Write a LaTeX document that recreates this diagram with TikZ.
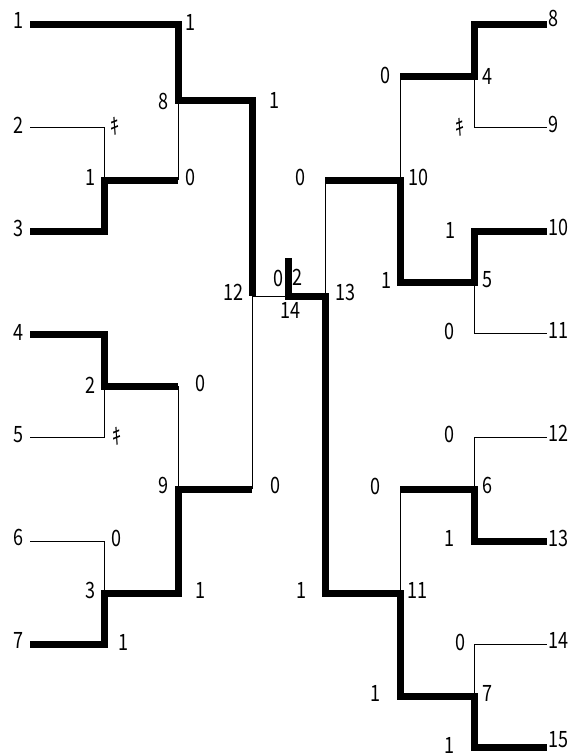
\documentclass[tikz,border=0pt]{standalone}
\usepackage{fontspec}
\newfontfamily\gothic[FakeStretch=0.8]{Noto Sans CJK JP}
\newcommand{\ki}{ｷ}

\begin{document}
\begin{tikzpicture}[x=1pt,y=-1pt,
	win/.style={line width=7pt},
	lose/.style={line width=1pt},
	lbl/.style={inner sep=0pt,font=\gothic\fontsize{22.5}{22.5}\selectfont}]
	\useasboundingbox (0,0) rectangle (570,755);
	% tree points, left half
	\coordinate (a1) at (30,24);
	\coordinate (a2) at (30,127);
	\coordinate (a3) at (30,231);
	\coordinate (a4) at (30,334);
	\coordinate (a5) at (30,437);
	\coordinate (a6) at (30,541);
	\coordinate (a7) at (30,644);
	\coordinate (n1) at (104,180);
	\coordinate (n2) at (104,386);
	\coordinate (n3) at (104,593);
	\coordinate (n8) at (178,100);
	\coordinate (n9) at (178,489);
	\coordinate (n12) at (252,296);
	\coordinate (n14) at (288,296);
	\coordinate (top) at (288,258);
	% tree points, right half
	\coordinate (n13) at (325,296);
	\coordinate (n10) at (400,180);
	\coordinate (n11) at (400,593);
	\coordinate (n4) at (474,76);
	\coordinate (n5) at (474,282);
	\coordinate (n6) at (474,489);
	\coordinate (n7) at (474,696);
	\coordinate (b8) at (547,24);
	\coordinate (b9) at (547,127);
	\coordinate (b10) at (547,231);
	\coordinate (b11) at (547,333);
	\coordinate (b12) at (547,437);
	\coordinate (b13) at (547,541);
	\coordinate (b14) at (547,644);
	\coordinate (b15) at (547,747);
%
	\draw[win] (a1) -| (n8) -| (n12);
	\draw[lose] (a2) -| (n1);
	\draw[win] (a3) -| (n1) -- (n1 -| n8);
		\draw[lose] (n1 -| n8) -- (n8);
	\draw[win] (a4) -| (n2) -- (n2 -| n9);
	\draw[lose] (a5) -| (n2);
		\draw[lose] (n2 -| n9) -- (n9);
	\draw[lose] (a6) -| (n3);
	\draw[win] (a7) -| (n3) -| (n9) -- (n9 -| n12);
		\draw[lose] (n9 -| n12) -- (n12);
	\draw[lose] (n12) -- (n14);
%
	\draw[win] (top) -- (n14) -- (n13) |- (n11) |- (n7) |- (b15);
	\draw[lose] (n13) -- (n13 |- n10);
	\draw[win] (n13 |- n10) -- (n10) |- (n5) |- (b10);
	\draw[lose] (n10) -- (n10 |- n4);
	\draw[win] (n10 |- n4) -- (n4) |- (b8);
	\draw[lose] (n4) |- (b9);
	\draw[lose] (n5) |- (b11);
	\draw[lose] (n11) -- (n11 |- n6);
	\draw[win] (n11 |- n6) -- (n6) |- (b13);
	\draw[lose] (n6) |- (b12);
	\draw[lose] (n7) |- (b14);
%
	\node[lbl,anchor=east] (la1) at (24,20) {1};
	\node[lbl,anchor=east] (la2) at (24,125) {2};
	\node[lbl,anchor=east] (la3) at (24,228) {3};
	\node[lbl,anchor=east] (la4) at (24,332) {4};
	\node[lbl,anchor=east] (la5) at (24,435) {5};
	\node[lbl,anchor=east] (la6) at (24,537) {6};
	\node[lbl,anchor=east] (la7) at (24,640) {7};
		\node[lbl] (sa1) at (190,22) {1};
		\node[lbl] (ln8) at (163,101) {8};
		\node[lbl] (s8) at (274,100) {1};
		\node[lbl] (ka2) at (115,126) {\ki};
		\node[lbl] (ln1) at (90,177) {1};
		\node[lbl] (s1) at (190,177) {0};
		\node[lbl] (ln2) at (90,385) {2};
		\node[lbl] (s2) at (200,383) {0};
		\node[lbl] (ka5) at (117,436) {\ki};
		\node[lbl] (ln9) at (163,485) {9};
		\node[lbl] (s9) at (275,485) {0};
		\node[lbl] (sa6) at (116,538) {0};
		\node[lbl] (ln3) at (90,590) {3};
		\node[lbl] (s3) at (200,590) {1};
		\node[lbl] (sa7) at (123,642) {1};
%
		\node[lbl] (ln12) at (233,292) {12};
		\node[lbl] (s12) at (278,278) {0};
		\node[lbl] (s13) at (297,277) {2};
		\node[lbl] (ln14) at (290,310) {14};
		\node[lbl] (ln13) at (345,292) {13};
%
	\node[lbl,anchor=west] (lb8) at (548,18) {8};
	\node[lbl,anchor=west] (lb9) at (548,124) {9};
	\node[lbl,anchor=west] (lb10) at (548,227) {10};
	\node[lbl,anchor=west] (lb11) at (548,330) {11};
	\node[lbl,anchor=west] (lb12) at (548,433) {12};
	\node[lbl,anchor=west] (lb13) at (548,538) {13};
	\node[lbl,anchor=west] (lb14) at (548,640) {14};
	\node[lbl,anchor=west] (lb15) at (548,740) {15};
		\node[lbl] (s4) at (385,75) {0};
		\node[lbl] (ln4) at (487,76) {4};
		\node[lbl] (kb9) at (460,127) {\ki};
		\node[lbl] (s10) at (300,177) {0};
		\node[lbl] (ln10) at (418,177) {10};
		\node[lbl] (sb10) at (450,230) {1};
		\node[lbl] (s5) at (386,280) {1};
		\node[lbl] (ln5) at (487,280) {5};
		\node[lbl] (sb11) at (449,331) {0};
		\node[lbl] (sb12) at (449,434) {0};
		\node[lbl] (s6) at (375,486) {0};
		\node[lbl] (ln6) at (487,485) {6};
		\node[lbl] (sb13) at (449,538) {1};
		\node[lbl] (s11) at (301,590) {1};
		\node[lbl] (ln11) at (417,590) {11};
		\node[lbl] (sb14) at (460,642) {0};
		\node[lbl] (s7) at (375,693) {1};
		\node[lbl] (ln7) at (487,693) {7};
		\node[lbl] (sb15) at (449,745) {1};
\end{tikzpicture}
\end{document}
